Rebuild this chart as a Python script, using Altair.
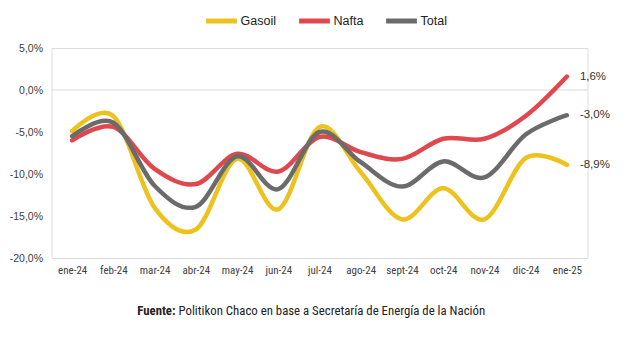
import altair as alt
import pandas as pd

months = ["ene-24", "feb-24", "mar-24", "abr-24", "may-24", "jun-24", "jul-24",
          "ago-24", "sept-24", "oct-24", "nov-24", "dic-24", "ene-25"]
gasoil = [-4.9, -3.1, -14.0, -16.6, -8.2, -14.2, -4.4, -9.8, -15.4, -11.7, -15.4, -8.1, -8.9]
nafta = [-6.0, -4.4, -9.4, -11.2, -7.6, -9.7, -5.6, -7.4, -8.2, -5.8, -5.8, -3.1, 1.6]
total = [-5.5, -3.9, -11.4, -13.9, -7.9, -11.8, -5.0, -8.6, -11.5, -8.5, -10.4, -5.3, -3.0]
series_names = ["Gasoil", "Nafta", "Total"]
series_colors = ["#EEC21E", "#DE484E", "#6B6B6B"]
end_labels = ["-8,9%", "1,6%", "-3,0%"]
y_ticks = [5, 0, -5, -10, -15, -20]
source_bold = "Fuente:"
source_text = "Politikon Chaco en base a Secretaría de Energía de la Nación"

rows = []
for name, vals in zip(series_names, [gasoil, nafta, total]):
    for m, v in zip(months, vals):
        rows.append({"mes": m, "serie": name, "valor": v})
df = pd.DataFrame(rows)

ends = pd.DataFrame({
    "mes": [months[-1]] * 3,
    "serie": series_names,
    "valor": [gasoil[-1], nafta[-1], total[-1]],
    "label": end_labels,
})

FONT = "Liberation Sans"
NARROW = "Liberation Sans Narrow, Roboto Condensed, Arial Narrow, Liberation Sans"

x_enc = alt.X("mes:O", sort=months, scale=alt.Scale(type="point", padding=0.5),
              axis=alt.Axis(title=None, domain=False, ticks=False, labelAngle=0,
                            labelFont=NARROW, labelFontSize=11, labelColor="#404040",
                            labelPadding=6, grid=False))
y_scale = alt.Scale(domain=[-20, 5], nice=False, zero=False)

lines = alt.Chart(df).mark_line(strokeWidth=4.5, interpolate="cardinal", tension=0, strokeCap="round").encode(
    x=x_enc,
    y=alt.Y("valor:Q", scale=y_scale,
            axis=alt.Axis(title=None, domain=False, ticks=False, grid=False, values=y_ticks,
                          labelExpr="(datum.value < 0 ? '-' : '') + replace(format(abs(datum.value), '.1f'), '.', ',') + '%'",
                          labelFont=FONT, labelFontSize=10.5, labelColor="#404040", labelPadding=9)),
    color=alt.Color("serie:N", scale=alt.Scale(domain=series_names, range=series_colors),
                    legend=alt.Legend(title=None, orient="none", direction="horizontal",
                                      legendX=152, legendY=-45, symbolType="stroke",
                                      symbolStrokeWidth=5, symbolSize=950, labelOffset=1,
                                      columnPadding=12, labelFont=FONT, labelFontSize=12.5,
                                      labelColor="#222222")),
    order=alt.Order("serie:N"),
)

zero = alt.Chart(pd.DataFrame({"v": [0]})).mark_rule(color="#D9D9D9", strokeWidth=1).encode(
    y=alt.Y("v:Q", scale=y_scale),
)

labels = alt.Chart(ends).mark_text(align="left", baseline="middle", dx=13, font=FONT,
                                   fontSize=11.5, color="#333333").encode(
    x=alt.X("mes:O", sort=months),
    y=alt.Y("valor:Q", scale=y_scale),
    text="label:N",
)

src1 = alt.Chart(pd.DataFrame({"t": [source_bold]})).mark_text(
    align="right", baseline="middle", font=NARROW, fontSize=12.8, fontWeight="bold", color="#222222"
).encode(x=alt.value(124), y=alt.value(263), text="t:N")
src2 = alt.Chart(pd.DataFrame({"t": [source_text]})).mark_text(
    align="left", baseline="middle", font=NARROW, fontSize=12.8, color="#222222"
).encode(x=alt.value(127), y=alt.value(263), text="t:N")

chart = alt.layer(zero, lines, labels, src1, src2).properties(
    width=536, height=210,
    padding={"left": 51.5, "top": 48, "right": 41.5, "bottom": 96},
    autosize=alt.AutoSizeParams(type="none"),
).configure_view(stroke=None).configure(background="white")

chart.save("out.html", embed_options={"renderer": "svg", "actions": False})
